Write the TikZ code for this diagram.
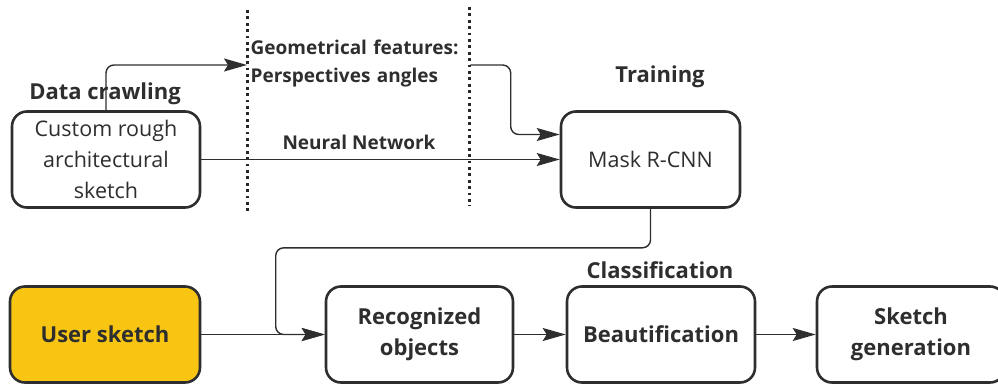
\documentclass[tikz,border=0pt]{standalone}
\usepackage{fontspec}
\setmainfont{Open Sans}
\usetikzlibrary{arrows.meta,calc}

\definecolor{dark}{HTML}{2E2E2E}
\definecolor{sketchyellow}{HTML}{F7C512}

\tikzset{every picture/.style={line width=1.4pt}}
\tikzset{
	box/.style={draw=dark, line width=2.6pt, rounded corners=15pt, minimum height=96pt, align=center, text=dark, inner sep=2pt},
	boxtext/.style={font=\fontsize{21.5}{31}\selectfont},
	boldtext/.style={font=\fontsize{22}{31}\selectfont\bfseries},
	title/.style={text=dark, inner sep=0pt, font=\fontsize{22}{26}\selectfont\bfseries},
	note/.style={text=dark, inner sep=0pt, font=\fontsize{19}{28}\selectfont\bfseries},
	conn/.style={draw=dark, line width=1.4pt, rounded corners=8pt, -{Stealth[length=23pt,width=13pt,inset=4pt]}},
	sep/.style={draw=black!85, line width=3pt, dash pattern=on 2.8pt off 3.6pt}
}

\begin{document}
\begin{tikzpicture}[x=1pt,y=1pt,yscale=-1,xscale=1]
	\useasboundingbox (0,0) rectangle (998,383);
	
	% dotted separators
	\draw [sep] (247,10) -- (247,211);
	\draw [sep] (469,7) -- (469,206);
	
	% top row
	\node [box, boxtext, minimum width=188pt] (custom) at (106,159.5) {Custom rough\\architectural\\sketch};
	\node [box, boxtext, minimum width=179pt] (mask) at (650.5,159.5) {Mask R-CNN};
	\node [title] (crawl) at (105,94) {Data crawling};
	\node [title] (train) at (660,77) {Training};
	\node [note, anchor=west, align=left, text width=219pt] (geo) at (250,64) {Geometrical features:\\Perspectives angles};
	
	% bottom row
	\node [box, boldtext, minimum width=190pt, fill=sketchyellow] (user) at (105,334.5) {User sketch};
	\node [box, boldtext, minimum width=187pt] (recog) at (419.5,334.5) {Recognized\\objects};
	\node [box, boldtext, minimum width=188pt] (beaut) at (661,334.5) {Beautification};
	\node [box, boldtext, minimum width=188pt] (gen) at (911,334.5) {Sketch\\generation};
	\node [title] (classif) at (660,270) {Classification};
	
	% connectors
	\draw [conn] (custom.north) |- ($(geo.west)+(-3,1)$);
	\draw [conn] ($(geo.east)+(0,1)$) -| ($(mask.west)+(-49,-25)$) -- ($(mask.west)+(0,-25)$);
	\draw [conn] (custom.east) -- node [note, pos=0.44, above=9pt] (nn) {Neural Network} (mask.west);
	\draw [conn] (mask.south) -- ++(0,39) -| ($(recog.west)+(-49,0)$) -- (recog.west);
	\draw [conn] (user.east) -- (recog.west);
	\draw [conn] (recog.east) -- (beaut.west);
	\draw [conn] (beaut.east) -- (gen.west);
	
\end{tikzpicture}
\end{document}
